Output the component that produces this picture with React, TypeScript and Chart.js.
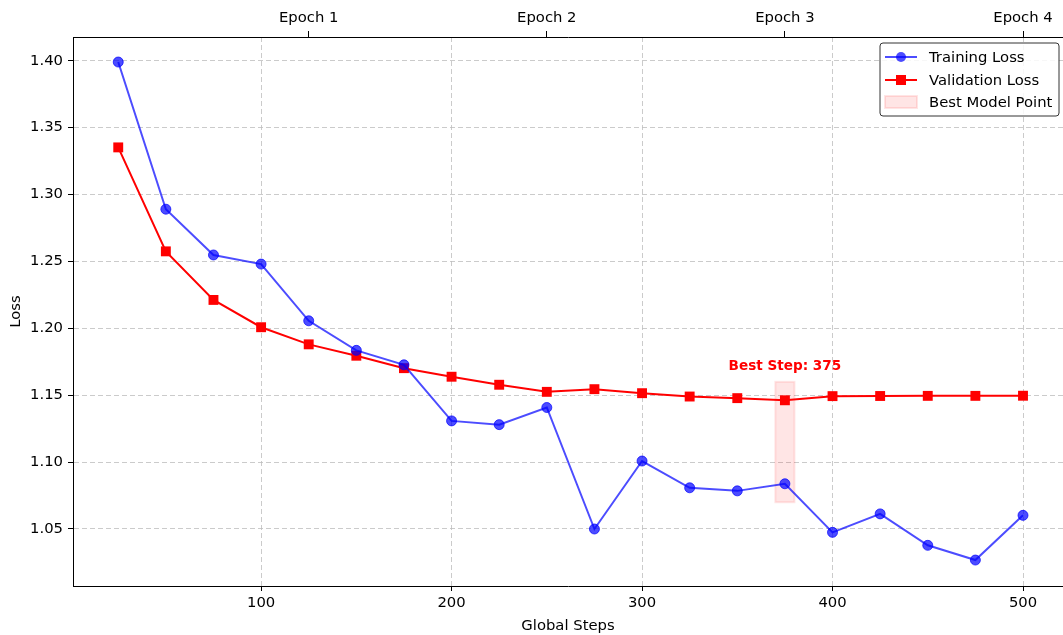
import React, { useEffect, useRef } from "react";
import { Chart, registerables } from "chart.js";

Chart.register(...registerables);

const steps = [25, 50, 75, 100, 125, 150, 175, 200, 225, 250, 275, 300, 325, 350, 375, 400, 425, 450, 475, 500];
const trainingLoss = [1.399, 1.289, 1.2548, 1.248, 1.2056, 1.1835, 1.1727, 1.1308, 1.128, 1.1408, 1.05, 1.1008, 1.0808, 1.0785, 1.0838, 1.0475, 1.0613, 1.0378, 1.0268, 1.0602];
const validationLoss = [1.3352, 1.2575, 1.2212, 1.2008, 1.188, 1.1795, 1.1702, 1.1638, 1.1578, 1.1525, 1.1545, 1.1515, 1.149, 1.1478, 1.1462, 1.1493, 1.1494, 1.1495, 1.1495, 1.1496];
const xTicks = [100, 200, 300, 400, 500];
const yTicks = [1.05, 1.1, 1.15, 1.2, 1.25, 1.3, 1.35, 1.4];
const epochSteps = [125, 250, 375, 500];
const epochLabels = ["Epoch 1", "Epoch 2", "Epoch 3", "Epoch 4"];
const bestStep = 375;
const bestBox = { x0: 370, x1: 380, y0: 1.07, y1: 1.16 };
const bestLabel = "Best Step: 375";
const bestLabelY = 1.1662;
const legendLabels = ["Training Loss", "Validation Loss", "Best Model Point"];

const FONT = "'DejaVu Sans', sans-serif";
const BLUE = "rgba(0,0,255,0.7)";
const RED = "rgb(255,0,0)";

const bestPlugin = {
  id: "bestPlugin",
  beforeDatasetsDraw(chart: any) {
    const { ctx, scales } = chart;
    const x = scales.x, y = scales.y;
    const l = x.getPixelForValue(bestBox.x0);
    const r = x.getPixelForValue(bestBox.x1);
    const t = y.getPixelForValue(bestBox.y1);
    const b = y.getPixelForValue(bestBox.y0);
    ctx.save();
    ctx.fillStyle = "rgba(255,0,0,0.1)";
    ctx.fillRect(l, t, r - l, b - t);
    ctx.strokeStyle = "rgba(255,0,0,0.1)";
    ctx.lineWidth = 2;
    ctx.strokeRect(l, t, r - l, b - t);
    ctx.restore();
  },
  afterDatasetsDraw(chart: any) {
    const { ctx, scales } = chart;
    const x = scales.x, y = scales.y;
    ctx.save();
    ctx.font = `bold 13.6px ${FONT}`;
    ctx.fillStyle = RED;
    ctx.textAlign = "center";
    ctx.textBaseline = "bottom";
    ctx.fillText(bestLabel, x.getPixelForValue(bestStep), y.getPixelForValue(bestLabelY));
    ctx.restore();
  },
  afterDraw(chart: any) {
    const { ctx } = chart;
    ctx.save();
    const bx = 880, by = 43, bw = 179, bh = 73, rad = 3;
    ctx.beginPath();
    ctx.moveTo(bx + rad, by);
    ctx.lineTo(bx + bw - rad, by);
    ctx.quadraticCurveTo(bx + bw, by, bx + bw, by + rad);
    ctx.lineTo(bx + bw, by + bh - rad);
    ctx.quadraticCurveTo(bx + bw, by + bh, bx + bw - rad, by + bh);
    ctx.lineTo(bx + rad, by + bh);
    ctx.quadraticCurveTo(bx, by + bh, bx, by + bh - rad);
    ctx.lineTo(bx, by + rad);
    ctx.quadraticCurveTo(bx, by, bx + rad, by);
    ctx.closePath();
    ctx.fillStyle = "rgba(255,255,255,0.85)";
    ctx.fill();
    ctx.strokeStyle = "#333";
    ctx.lineWidth = 1;
    ctx.stroke();

    const hx0 = 885, hx1 = 917, hc = 901;
    const rows = [57, 80, 102];
    ctx.strokeStyle = BLUE;
    ctx.lineWidth = 2;
    ctx.beginPath();
    ctx.moveTo(hx0, rows[0]);
    ctx.lineTo(hx1, rows[0]);
    ctx.stroke();
    ctx.fillStyle = BLUE;
    ctx.beginPath();
    ctx.arc(hc, rows[0], 5, 0, Math.PI * 2);
    ctx.fill();
    ctx.strokeStyle = RED;
    ctx.beginPath();
    ctx.moveTo(hx0, rows[1]);
    ctx.lineTo(hx1, rows[1]);
    ctx.stroke();
    ctx.fillStyle = RED;
    ctx.fillRect(hc - 5, rows[1] - 5, 10, 10);
    ctx.fillStyle = "rgba(255,0,0,0.1)";
    ctx.fillRect(hx0, rows[2] - 6, hx1 - hx0, 12);
    ctx.strokeStyle = "rgba(255,0,0,0.1)";
    ctx.lineWidth = 2;
    ctx.strokeRect(hx0, rows[2] - 6, hx1 - hx0, 12);

    ctx.fillStyle = "#000";
    ctx.font = `14.8px ${FONT}`;
    ctx.textAlign = "left";
    ctx.textBaseline = "middle";
    legendLabels.forEach((t, i) => ctx.fillText(t, 929, rows[i] + 1));
    ctx.restore();
  },
};

export default function App() {
  const ref = useRef<HTMLCanvasElement | null>(null);
  useEffect(() => {
    if (!ref.current) return;
    const tickFont = { family: FONT, size: 14.8 };
    const chart = new Chart(ref.current, {
      type: "line",
      data: {
        datasets: [
          {
            label: "Training Loss",
            data: steps.map((s, i) => ({ x: s, y: trainingLoss[i] })),
            borderColor: BLUE,
            backgroundColor: BLUE,
            pointBackgroundColor: BLUE,
            pointBorderColor: BLUE,
            pointBorderWidth: 1,
            pointRadius: 5,
            pointStyle: "circle",
            borderWidth: 2,
            tension: 0,
            xAxisID: "x",
            yAxisID: "y",
          },
          {
            label: "Validation Loss",
            data: steps.map((s, i) => ({ x: s, y: validationLoss[i] })),
            borderColor: RED,
            backgroundColor: RED,
            pointBackgroundColor: RED,
            pointBorderColor: RED,
            pointBorderWidth: 0,
            pointRadius: 7,
            pointStyle: "rect",
            borderWidth: 2,
            tension: 0,
            xAxisID: "x",
            yAxisID: "y",
          },
        ],
      },
      options: {
        animation: false,
        responsive: false,
        devicePixelRatio: 1,
        layout: { padding: 0, autoPadding: false },
        plugins: { legend: { display: false }, tooltip: { enabled: false } },
        scales: {
          x: {
            type: "linear",
            position: "bottom",
            min: 1.25,
            max: 521,
            afterBuildTicks: (s: any) => { s.ticks = xTicks.map((v) => ({ value: v })); },
            afterFit: (s: any) => { s.height = 49; s.paddingLeft = 0; s.paddingRight = 0; },
            ticks: { font: tickFont, color: "#000", padding: 3, maxRotation: 0, autoSkip: false, callback: (v: any) => String(v) },
            grid: { color: "rgba(190,190,190,0.8)", lineWidth: 1, tickColor: "#000", tickLength: 5, tickWidth: 1 },
            border: { display: true, color: "#000", width: 1, dash: [5, 3] },
            title: { display: true, text: "Global Steps", font: tickFont, color: "#000", padding: { top: 0, bottom: 0 } },
          },
          x2: {
            type: "linear",
            position: "top",
            min: 1.25,
            max: 521,
            afterBuildTicks: (s: any) => { s.ticks = epochSteps.map((v) => ({ value: v })); },
            afterFit: (s: any) => { s.height = 37; s.paddingLeft = 0; s.paddingRight = 0; },
            ticks: { font: tickFont, color: "#000", padding: 4, maxRotation: 0, autoSkip: false, callback: (_v: any, i: number) => epochLabels[i] },
            grid: { drawOnChartArea: false, tickColor: "#000", tickLength: 6, tickWidth: 1 },
            border: { display: true, color: "#000", width: 1 },
          },
          y: {
            type: "linear",
            position: "left",
            min: 1.0074,
            max: 1.4177,
            afterBuildTicks: (s: any) => { s.ticks = yTicks.map((v) => ({ value: v })); },
            afterFit: (s: any) => { s.width = 73; s.paddingTop = 0; s.paddingBottom = 0; },
            ticks: { font: tickFont, color: "#000", padding: 5, callback: (v: any) => Number(v).toFixed(2) },
            grid: { color: "rgba(190,190,190,0.8)", lineWidth: 1, tickColor: "#000", tickLength: 5, tickWidth: 1 },
            border: { display: true, color: "#000", width: 1, dash: [5, 3] },
            title: { display: true, text: "Loss", font: tickFont, color: "#000", padding: { top: 7, bottom: 0 } },
          },
        },
      },
      plugins: [bestPlugin],
    } as any);
    return () => chart.destroy();
  }, []);
  return (
    <div style={{ position: "fixed", left: 0, top: 0, width: 1063, height: 635, background: "#fff" }}>
      <canvas ref={ref} width={1063} height={635} style={{ width: 1063, height: 635, display: "block" }} />
    </div>
  );
}
